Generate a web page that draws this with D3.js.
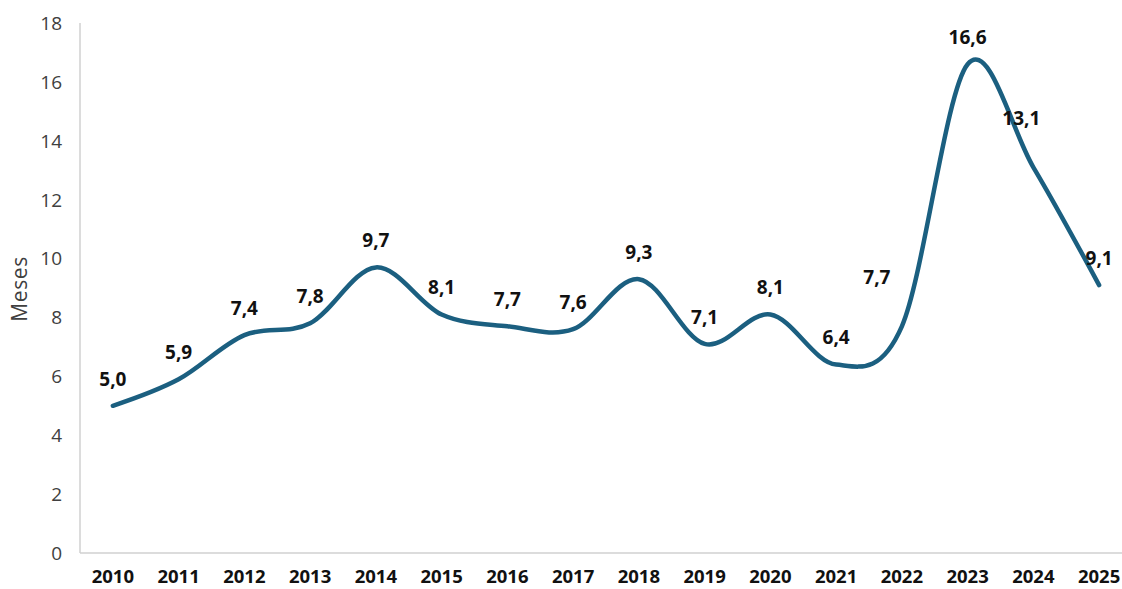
<!DOCTYPE html>
<html lang="es">
<head>
<meta charset="utf-8">
<script src="https://d3js.org/d3.v7.min.js"></script>
<style>
  body { margin: 0; background: #fff; }
  text { font-family: "Open Sans", "Liberation Sans", sans-serif; }
</style>
</head>
<body>
<script>
// data
const years = ["2010","2011","2012","2013","2014","2015","2016","2017","2018","2019","2020","2021","2022","2023","2024","2025"];
const meses = [5.0, 5.9, 7.4, 7.8, 9.7, 8.1, 7.7, 7.6, 9.3, 7.1, 8.1, 6.4, 7.7, 16.6, 13.1, 9.1];
const yTicks = [0, 2, 4, 6, 8, 10, 12, 14, 16, 18];

const width = 1122, height = 589;

// a couple of labels are nudged off the line, like in the original
const labelNudge = { "2022": [-25, -22], "2024": [-12, -22] };

const svg = d3.select("body").append("svg")
    .attr("width", width)
    .attr("height", height);

const x = d3.scalePoint()
    .domain(years)
    .range([80, 1132])
    .padding(0.5);

const y = d3.scaleLinear()
    .domain([0, 18])
    .range([553, 23]);

// axis lines
svg.append("line")
    .attr("x1", 80).attr("x2", 80)
    .attr("y1", y(18)).attr("y2", y(0))
    .attr("stroke", "#d0d0d0").attr("stroke-width", 1.5);
svg.append("line")
    .attr("x1", 80).attr("x2", width)
    .attr("y1", y(0)).attr("y2", y(0))
    .attr("stroke", "#d0d0d0").attr("stroke-width", 1.5);

// y tick labels
svg.append("g").selectAll("text")
  .data(yTicks)
  .join("text")
    .attr("x", 62)
    .attr("y", d => y(d))
    .attr("dy", "0.36em")
    .attr("text-anchor", "end")
    .attr("font-size", 19)
    .attr("fill", "#404040")
    .text(d => d);

// y axis title
svg.append("text")
    .attr("transform", "translate(27,289) rotate(-90)")
    .attr("text-anchor", "middle")
    .attr("font-size", 21)
    .attr("letter-spacing", 0.6)
    .attr("fill", "#404040")
    .text("Meses");

// x labels
svg.append("g").selectAll("text")
  .data(years)
  .join("text")
    .attr("x", d => x(d))
    .attr("y", 576)
    .attr("dy", "0.36em")
    .attr("text-anchor", "middle")
    .attr("font-size", 18.5)
    .attr("font-weight", 700)
    .attr("fill", "#111")
    .text(d => d);

// smoothed line
const line = d3.line()
    .x((d, i) => x(years[i]))
    .y(d => y(d))
    .curve(d3.curveCardinal.tension(0));

svg.append("path")
    .datum(meses)
    .attr("d", line)
    .attr("fill", "none")
    .attr("stroke", "#1b5f80")
    .attr("stroke-width", 4.5)
    .attr("stroke-linecap", "round")
    .attr("stroke-linejoin", "round");

// data labels
const fmt = d => d.toFixed(1).replace(".", ",");
svg.append("g").selectAll("text")
  .data(meses)
  .join("text")
    .attr("x", (d, i) => x(years[i]) + (labelNudge[years[i]] || [0, 0])[0])
    .attr("y", (d, i) => y(d) - 27 + (labelNudge[years[i]] || [0, 0])[1])
    .attr("dy", "0.36em")
    .attr("text-anchor", "middle")
    .attr("font-size", 19)
    .attr("font-weight", 700)
    .attr("fill", "#111")
    .text(fmt);
</script>
</body>
</html>
